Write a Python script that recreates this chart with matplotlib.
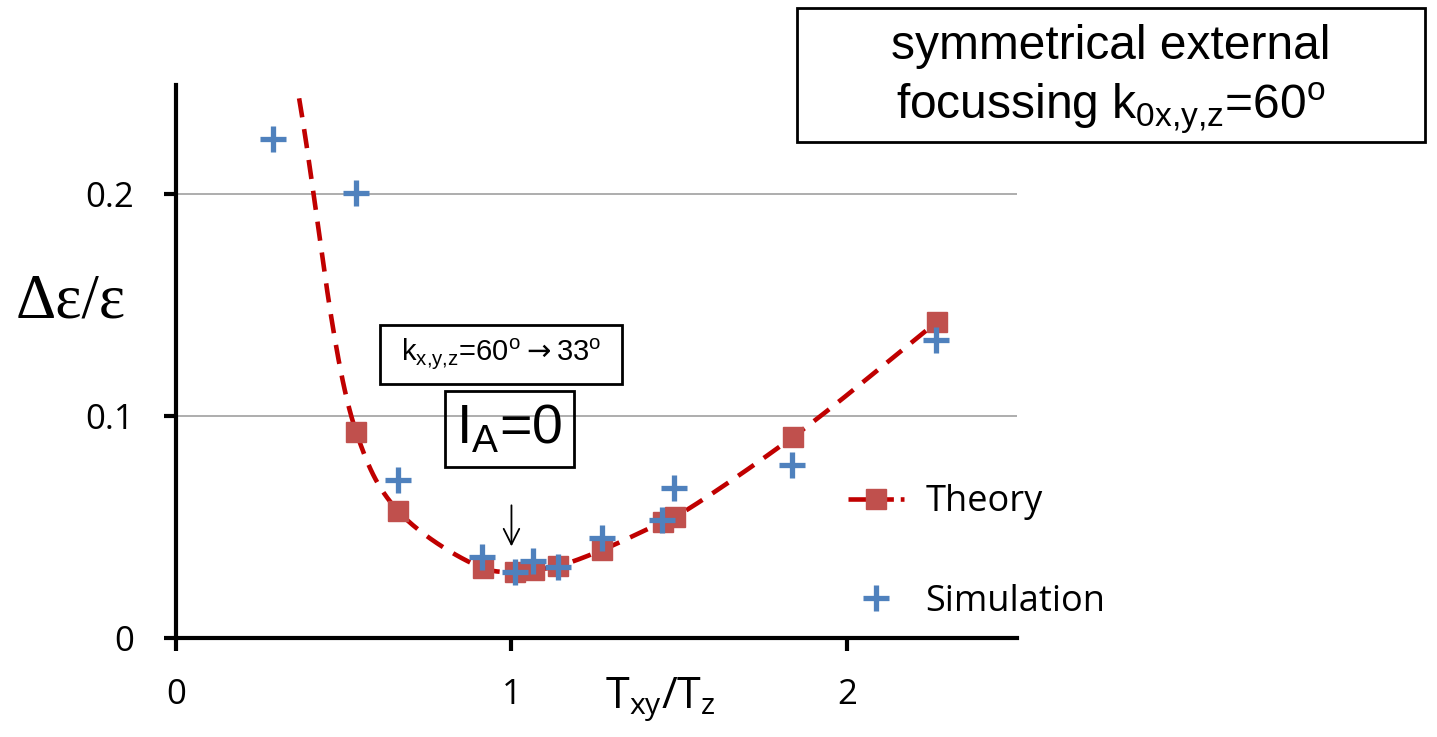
import numpy as np
import matplotlib
matplotlib.use("Agg")
import matplotlib.pyplot as plt
from matplotlib.lines import Line2D
from matplotlib.patches import Rectangle

plt.rcParams['font.family'] = ['Open Sans', 'DejaVu Sans']

# theory points (red squares) and where the smoothed curve starts
theory_x = [0.537, 0.662, 0.915, 1.010, 1.067, 1.139, 1.270, 1.452, 1.487, 1.839, 2.268]
theory_y = [0.0928, 0.0572, 0.0315, 0.0297, 0.0306, 0.0324, 0.0396, 0.0523, 0.0545, 0.0905, 0.1423]
curve_start = (0.367, 0.243)

# simulation points (blue crosses)
sim_x = [0.289, 0.537, 0.662, 0.912, 1.010, 1.064, 1.139, 1.270, 1.449, 1.484, 1.836, 2.265]
sim_y = [0.2248, 0.2005, 0.0712, 0.0365, 0.0297, 0.0347, 0.0320, 0.0450, 0.0532, 0.0676, 0.0780, 0.1342]

x_ticks = [0, 1, 2]
y_ticks = [0, 0.1, 0.2]
y_tick_labels = ["0", "0.1", "0.2"]

red_line = "#C00000"
red_marker = "#C0504D"
blue = "#4F81BD"

W, H = 1437, 737


def smooth(xs, ys, n=30, alpha=0.5):
    # centripetal catmull-rom, in roughly pixel space so x and y weigh alike
    sx, sy = 335.5, 2220.0
    p = np.column_stack([np.array(xs) * sx, np.array(ys) * sy])
    p = np.vstack([2*p[0] - p[1], p, 2*p[-1] - p[-2]])
    out = []
    for i in range(1, len(p) - 2):
        p0, p1, p2, p3 = p[i-1], p[i], p[i+1], p[i+2]
        t0 = 0.0
        t1 = t0 + np.linalg.norm(p1 - p0) ** alpha
        t2 = t1 + np.linalg.norm(p2 - p1) ** alpha
        t3 = t2 + np.linalg.norm(p3 - p2) ** alpha
        for t in np.linspace(t1, t2, n, endpoint=False):
            a1 = (t1-t)/(t1-t0)*p0 + (t-t0)/(t1-t0)*p1
            a2 = (t2-t)/(t2-t1)*p1 + (t-t1)/(t2-t1)*p2
            a3 = (t3-t)/(t3-t2)*p2 + (t-t2)/(t3-t2)*p3
            b1 = (t2-t)/(t2-t0)*a1 + (t-t0)/(t2-t0)*a2
            b2 = (t3-t)/(t3-t1)*a2 + (t-t1)/(t3-t1)*a3
            out.append((t2-t)/(t2-t1)*b1 + (t-t1)/(t2-t1)*b2)
    out.append(p[-2])
    out = np.array(out)
    return out[:, 0] / sx, out[:, 1] / sy


fig = plt.figure(figsize=(W/100, H/100), dpi=100)
ax = fig.add_axes([176/W, 1 - 638/H, (1017-176)/W, (638-85)/H])
ax.set_xlim(0, 2.507)
ax.set_ylim(0, 0.249)

for s in ["top", "right"]:
    ax.spines[s].set_visible(False)
for s in ["left", "bottom"]:
    ax.spines[s].set_linewidth(3)
ax.set_xticks(x_ticks)
ax.set_yticks(y_ticks)
ax.set_yticklabels(y_tick_labels)
ax.tick_params(length=9, width=3, labelsize=25)
ax.tick_params(axis="y", pad=21)
ax.tick_params(axis="x", pad=20)
for yv in y_ticks[1:]:
    ax.axhline(yv, color="#A0A0A0", lw=1.2, zorder=0)

cx, cy = smooth([curve_start[0]] + theory_x, [curve_start[1]] + theory_y)
ax.plot(cx, cy, color=red_line, lw=3.3, dashes=(4.2, 2.6), zorder=2, clip_on=False)
ax.plot(theory_x, theory_y, ls="none", marker="s", ms=15, color=red_marker, zorder=3)
ax.plot(sim_x, sim_y, ls="none", marker="+", ms=19, mew=3.8, color=blue, zorder=4)

fig.text(660/W, 1 - 700/H, "T$_\\mathregular{xy}$/T$_\\mathregular{z}$", fontsize=31,
         ha="center", va="center")
fig.text(71/W, 1 - 302/H, "\u0394\u03b5/\u03b5", fontsize=45,
         family=["Liberation Serif", "DejaVu Serif"], ha="center", va="center")

handles = [
    Line2D([], [], color=red_line, lw=3.3, dashes=(4.2, 1.5), marker="s", ms=15,
           markerfacecolor=red_marker, markeredgecolor=red_marker),
    Line2D([], [], ls="none", marker="+", ms=19, mew=3.8, color=blue),
]
fig.legend(handles, ["Theory", "Simulation"], loc="center left",
           bbox_to_anchor=(848/W, 1 - 552/H), frameon=False, fontsize=26,
           handlelength=1.55, handletextpad=0.6, labelspacing=1.75, borderpad=0,
           borderaxespad=0, numpoints=1)


# boxes with text
def box(x0, y0, x1, y1, text, size, ls=1.15, lw=2, dy=0):
    fig.patches.append(Rectangle((x0/W, 1 - y1/H), (x1-x0)/W, (y1-y0)/H,
                                 transform=fig.transFigure, fill=False,
                                 edgecolor="black", lw=lw))
    fig.text((x0+x1)/2/W, 1 - ((y0+y1)/2 + dy)/H, text, fontsize=size,
             family=["Liberation Sans", "DejaVu Sans"], ha="center", va="center",
             linespacing=ls)


box(797, 8, 1425, 142,
    "symmetrical external\nfocussing k$_\\mathregular{0x{,}y{,}z}$=60$^\\mathregular{o}$",
    34.5, ls=1.32, dy=5)
box(380, 325, 622, 384,
    "k$_\\mathregular{x{,}y{,}z}$=60$^\\mathregular{o}$$\\rightarrow$33$^\\mathregular{o}$",
    21)
box(445, 391, 574, 467, "I$_\\mathregular{A}$=0", 40)

ax.annotate("", xy=(1.0, 0.040), xytext=(1.0, 0.061),
            arrowprops=dict(arrowstyle="->", color="black", lw=1.3,
                            mutation_scale=28))

fig.savefig("out.png", dpi=100)
